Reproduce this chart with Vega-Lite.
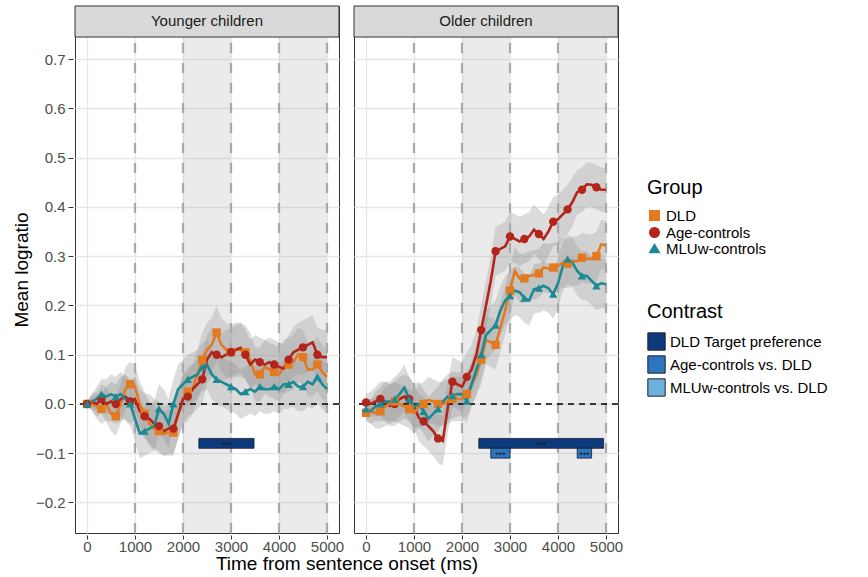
{
"$schema": "https://vega.github.io/schema/vega-lite/v6.json",
"padding": {"left": 12, "top": 5, "right": 5, "bottom": 0},
"data": {"values": [
{"p":"Younger children","k":"S"},
{"p":"Older children","k":"S"},
{"p":"Younger children","k":"shade","x1":2000,"x2":3000},
{"p":"Younger children","k":"shade","x1":4000,"x2":5000},
{"p":"Older children","k":"shade","x1":2000,"x2":3000},
{"p":"Older children","k":"shade","x1":4000,"x2":5000},
{"p":"Younger children","k":"V","t":1000},{"p":"Younger children","k":"V","t":2000},{"p":"Younger children","k":"V","t":3000},{"p":"Younger children","k":"V","t":4000},{"p":"Younger children","k":"V","t":5000},
{"p":"Older children","k":"V","t":1000},{"p":"Older children","k":"V","t":2000},{"p":"Older children","k":"V","t":3000},{"p":"Older children","k":"V","t":4000},{"p":"Older children","k":"V","t":5000},
{"p":"Younger children","k":"B","c":"DLD Target preference","x1":2330,"x2":3480,"y1":-0.07,"y2":-0.09},
{"p":"Older children","k":"B","c":"DLD Target preference","x1":2350,"x2":4950,"y1":-0.07,"y2":-0.09},
{"p":"Older children","k":"B","c":"Age-controls vs. DLD","x1":2600,"x2":3000,"y1":-0.09,"y2":-0.11},
{"p":"Older children","k":"B","c":"Age-controls vs. DLD","x1":4400,"x2":4700,"y1":-0.09,"y2":-0.11},

{"p":"Younger children","k":"L","g":"DLD","t":0,"m":0.0,"lo":-0.005,"hi":0.005},
{"p":"Younger children","k":"L","g":"DLD","t":100,"m":0.0,"lo":-0.015,"hi":0.015},
{"p":"Younger children","k":"L","g":"DLD","t":200,"m":-0.005,"lo":-0.03,"hi":0.02},
{"p":"Younger children","k":"L","g":"DLD","t":300,"m":-0.01,"lo":-0.04,"hi":0.02},
{"p":"Younger children","k":"L","g":"DLD","t":400,"m":0.0,"lo":-0.035,"hi":0.035},
{"p":"Younger children","k":"L","g":"DLD","t":500,"m":-0.02,"lo":-0.055,"hi":0.015},
{"p":"Younger children","k":"L","g":"DLD","t":600,"m":-0.025,"lo":-0.065,"hi":0.015},
{"p":"Younger children","k":"L","g":"DLD","t":700,"m":0.0,"lo":-0.04,"hi":0.04},
{"p":"Younger children","k":"L","g":"DLD","t":800,"m":0.03,"lo":-0.01,"hi":0.075},
{"p":"Younger children","k":"L","g":"DLD","t":900,"m":0.04,"lo":-0.005,"hi":0.085},
{"p":"Younger children","k":"L","g":"DLD","t":1000,"m":0.035,"lo":-0.01,"hi":0.08},
{"p":"Younger children","k":"L","g":"DLD","t":1100,"m":0.0,"lo":-0.045,"hi":0.045},
{"p":"Younger children","k":"L","g":"DLD","t":1200,"m":-0.02,"lo":-0.065,"hi":0.025},
{"p":"Younger children","k":"L","g":"DLD","t":1300,"m":-0.04,"lo":-0.085,"hi":0.005},
{"p":"Younger children","k":"L","g":"DLD","t":1400,"m":-0.05,"lo":-0.095,"hi":-0.005},
{"p":"Younger children","k":"L","g":"DLD","t":1500,"m":-0.055,"lo":-0.1,"hi":-0.01},
{"p":"Younger children","k":"L","g":"DLD","t":1600,"m":-0.06,"lo":-0.105,"hi":-0.015},
{"p":"Younger children","k":"L","g":"DLD","t":1700,"m":-0.058,"lo":-0.105,"hi":-0.01},
{"p":"Younger children","k":"L","g":"DLD","t":1800,"m":-0.058,"lo":-0.105,"hi":-0.01},
{"p":"Younger children","k":"L","g":"DLD","t":1900,"m":-0.02,"lo":-0.07,"hi":0.03},
{"p":"Younger children","k":"L","g":"DLD","t":2000,"m":0.01,"lo":-0.04,"hi":0.06},
{"p":"Younger children","k":"L","g":"DLD","t":2100,"m":0.025,"lo":-0.025,"hi":0.075},
{"p":"Younger children","k":"L","g":"DLD","t":2200,"m":0.03,"lo":-0.02,"hi":0.08},
{"p":"Younger children","k":"L","g":"DLD","t":2300,"m":0.06,"lo":0.01,"hi":0.11},
{"p":"Younger children","k":"L","g":"DLD","t":2400,"m":0.09,"lo":0.035,"hi":0.145},
{"p":"Younger children","k":"L","g":"DLD","t":2500,"m":0.11,"lo":0.055,"hi":0.165},
{"p":"Younger children","k":"L","g":"DLD","t":2600,"m":0.12,"lo":0.065,"hi":0.175},
{"p":"Younger children","k":"L","g":"DLD","t":2700,"m":0.145,"lo":0.09,"hi":0.2},
{"p":"Younger children","k":"L","g":"DLD","t":2800,"m":0.12,"lo":0.065,"hi":0.175},
{"p":"Younger children","k":"L","g":"DLD","t":2900,"m":0.11,"lo":0.055,"hi":0.165},
{"p":"Younger children","k":"L","g":"DLD","t":3000,"m":0.105,"lo":0.05,"hi":0.16},
{"p":"Younger children","k":"L","g":"DLD","t":3100,"m":0.11,"lo":0.055,"hi":0.165},
{"p":"Younger children","k":"L","g":"DLD","t":3200,"m":0.11,"lo":0.055,"hi":0.165},
{"p":"Younger children","k":"L","g":"DLD","t":3300,"m":0.105,"lo":0.05,"hi":0.16},
{"p":"Younger children","k":"L","g":"DLD","t":3400,"m":0.09,"lo":0.035,"hi":0.145},
{"p":"Younger children","k":"L","g":"DLD","t":3500,"m":0.06,"lo":0.005,"hi":0.115},
{"p":"Younger children","k":"L","g":"DLD","t":3600,"m":0.06,"lo":0.005,"hi":0.115},
{"p":"Younger children","k":"L","g":"DLD","t":3700,"m":0.075,"lo":0.02,"hi":0.13},
{"p":"Younger children","k":"L","g":"DLD","t":3800,"m":0.07,"lo":0.015,"hi":0.125},
{"p":"Younger children","k":"L","g":"DLD","t":3900,"m":0.065,"lo":0.01,"hi":0.12},
{"p":"Younger children","k":"L","g":"DLD","t":4000,"m":0.06,"lo":0.005,"hi":0.115},
{"p":"Younger children","k":"L","g":"DLD","t":4100,"m":0.075,"lo":0.02,"hi":0.13},
{"p":"Younger children","k":"L","g":"DLD","t":4200,"m":0.08,"lo":0.025,"hi":0.135},
{"p":"Younger children","k":"L","g":"DLD","t":4300,"m":0.085,"lo":0.03,"hi":0.14},
{"p":"Younger children","k":"L","g":"DLD","t":4400,"m":0.1,"lo":0.045,"hi":0.155},
{"p":"Younger children","k":"L","g":"DLD","t":4500,"m":0.095,"lo":0.04,"hi":0.15},
{"p":"Younger children","k":"L","g":"DLD","t":4600,"m":0.07,"lo":0.015,"hi":0.125},
{"p":"Younger children","k":"L","g":"DLD","t":4700,"m":0.07,"lo":0.015,"hi":0.125},
{"p":"Younger children","k":"L","g":"DLD","t":4800,"m":0.08,"lo":0.025,"hi":0.135},
{"p":"Younger children","k":"L","g":"DLD","t":4900,"m":0.065,"lo":0.01,"hi":0.12},
{"p":"Younger children","k":"L","g":"DLD","t":5000,"m":0.055,"lo":0.0,"hi":0.11},

{"p":"Younger children","k":"L","g":"Age-controls","t":0,"m":0.0,"lo":-0.005,"hi":0.005},
{"p":"Younger children","k":"L","g":"Age-controls","t":100,"m":0.005,"lo":-0.01,"hi":0.02},
{"p":"Younger children","k":"L","g":"Age-controls","t":200,"m":0.0,"lo":-0.025,"hi":0.025},
{"p":"Younger children","k":"L","g":"Age-controls","t":300,"m":0.01,"lo":-0.02,"hi":0.04},
{"p":"Younger children","k":"L","g":"Age-controls","t":400,"m":0.0,"lo":-0.035,"hi":0.035},
{"p":"Younger children","k":"L","g":"Age-controls","t":500,"m":0.005,"lo":-0.035,"hi":0.045},
{"p":"Younger children","k":"L","g":"Age-controls","t":600,"m":0.0,"lo":-0.04,"hi":0.04},
{"p":"Younger children","k":"L","g":"Age-controls","t":700,"m":0.01,"lo":-0.035,"hi":0.055},
{"p":"Younger children","k":"L","g":"Age-controls","t":800,"m":0.015,"lo":-0.03,"hi":0.06},
{"p":"Younger children","k":"L","g":"Age-controls","t":900,"m":0.005,"lo":-0.04,"hi":0.05},
{"p":"Younger children","k":"L","g":"Age-controls","t":1000,"m":0.01,"lo":-0.035,"hi":0.055},
{"p":"Younger children","k":"L","g":"Age-controls","t":1100,"m":-0.015,"lo":-0.06,"hi":0.03},
{"p":"Younger children","k":"L","g":"Age-controls","t":1200,"m":-0.025,"lo":-0.07,"hi":0.02},
{"p":"Younger children","k":"L","g":"Age-controls","t":1300,"m":-0.03,"lo":-0.08,"hi":0.02},
{"p":"Younger children","k":"L","g":"Age-controls","t":1400,"m":-0.04,"lo":-0.09,"hi":0.01},
{"p":"Younger children","k":"L","g":"Age-controls","t":1500,"m":-0.045,"lo":-0.095,"hi":0.005},
{"p":"Younger children","k":"L","g":"Age-controls","t":1600,"m":-0.055,"lo":-0.105,"hi":-0.005},
{"p":"Younger children","k":"L","g":"Age-controls","t":1700,"m":-0.05,"lo":-0.1,"hi":0.0},
{"p":"Younger children","k":"L","g":"Age-controls","t":1800,"m":-0.05,"lo":-0.1,"hi":0.0},
{"p":"Younger children","k":"L","g":"Age-controls","t":1900,"m":-0.02,"lo":-0.07,"hi":0.03},
{"p":"Younger children","k":"L","g":"Age-controls","t":2000,"m":0.01,"lo":-0.04,"hi":0.06},
{"p":"Younger children","k":"L","g":"Age-controls","t":2100,"m":0.015,"lo":-0.035,"hi":0.065},
{"p":"Younger children","k":"L","g":"Age-controls","t":2200,"m":0.03,"lo":-0.02,"hi":0.08},
{"p":"Younger children","k":"L","g":"Age-controls","t":2300,"m":0.04,"lo":-0.01,"hi":0.09},
{"p":"Younger children","k":"L","g":"Age-controls","t":2400,"m":0.05,"lo":0.0,"hi":0.1},
{"p":"Younger children","k":"L","g":"Age-controls","t":2500,"m":0.09,"lo":0.04,"hi":0.14},
{"p":"Younger children","k":"L","g":"Age-controls","t":2600,"m":0.105,"lo":0.055,"hi":0.155},
{"p":"Younger children","k":"L","g":"Age-controls","t":2700,"m":0.1,"lo":0.05,"hi":0.15},
{"p":"Younger children","k":"L","g":"Age-controls","t":2800,"m":0.095,"lo":0.045,"hi":0.145},
{"p":"Younger children","k":"L","g":"Age-controls","t":2900,"m":0.1,"lo":0.05,"hi":0.15},
{"p":"Younger children","k":"L","g":"Age-controls","t":3000,"m":0.105,"lo":0.055,"hi":0.155},
{"p":"Younger children","k":"L","g":"Age-controls","t":3100,"m":0.11,"lo":0.06,"hi":0.16},
{"p":"Younger children","k":"L","g":"Age-controls","t":3200,"m":0.114,"lo":0.064,"hi":0.164},
{"p":"Younger children","k":"L","g":"Age-controls","t":3300,"m":0.1,"lo":0.05,"hi":0.15},
{"p":"Younger children","k":"L","g":"Age-controls","t":3400,"m":0.08,"lo":0.03,"hi":0.13},
{"p":"Younger children","k":"L","g":"Age-controls","t":3500,"m":0.09,"lo":0.04,"hi":0.14},
{"p":"Younger children","k":"L","g":"Age-controls","t":3600,"m":0.085,"lo":0.035,"hi":0.135},
{"p":"Younger children","k":"L","g":"Age-controls","t":3700,"m":0.08,"lo":0.03,"hi":0.13},
{"p":"Younger children","k":"L","g":"Age-controls","t":3800,"m":0.085,"lo":0.035,"hi":0.135},
{"p":"Younger children","k":"L","g":"Age-controls","t":3900,"m":0.08,"lo":0.03,"hi":0.13},
{"p":"Younger children","k":"L","g":"Age-controls","t":4000,"m":0.075,"lo":0.025,"hi":0.125},
{"p":"Younger children","k":"L","g":"Age-controls","t":4100,"m":0.072,"lo":0.022,"hi":0.122},
{"p":"Younger children","k":"L","g":"Age-controls","t":4200,"m":0.09,"lo":0.04,"hi":0.14},
{"p":"Younger children","k":"L","g":"Age-controls","t":4300,"m":0.105,"lo":0.055,"hi":0.155},
{"p":"Younger children","k":"L","g":"Age-controls","t":4400,"m":0.11,"lo":0.06,"hi":0.165},
{"p":"Younger children","k":"L","g":"Age-controls","t":4500,"m":0.115,"lo":0.06,"hi":0.17},
{"p":"Younger children","k":"L","g":"Age-controls","t":4600,"m":0.12,"lo":0.065,"hi":0.175},
{"p":"Younger children","k":"L","g":"Age-controls","t":4700,"m":0.125,"lo":0.07,"hi":0.18},
{"p":"Younger children","k":"L","g":"Age-controls","t":4800,"m":0.1,"lo":0.045,"hi":0.155},
{"p":"Younger children","k":"L","g":"Age-controls","t":4900,"m":0.095,"lo":0.04,"hi":0.15},
{"p":"Younger children","k":"L","g":"Age-controls","t":5000,"m":0.095,"lo":0.04,"hi":0.15},

{"p":"Younger children","k":"L","g":"MLUw-controls","t":0,"m":0.0,"lo":-0.005,"hi":0.005},
{"p":"Younger children","k":"L","g":"MLUw-controls","t":100,"m":0.005,"lo":-0.01,"hi":0.02},
{"p":"Younger children","k":"L","g":"MLUw-controls","t":200,"m":0.01,"lo":-0.015,"hi":0.035},
{"p":"Younger children","k":"L","g":"MLUw-controls","t":300,"m":0.02,"lo":-0.01,"hi":0.05},
{"p":"Younger children","k":"L","g":"MLUw-controls","t":400,"m":0.015,"lo":-0.02,"hi":0.05},
{"p":"Younger children","k":"L","g":"MLUw-controls","t":500,"m":0.02,"lo":-0.02,"hi":0.06},
{"p":"Younger children","k":"L","g":"MLUw-controls","t":600,"m":0.015,"lo":-0.025,"hi":0.055},
{"p":"Younger children","k":"L","g":"MLUw-controls","t":700,"m":0.02,"lo":-0.025,"hi":0.065},
{"p":"Younger children","k":"L","g":"MLUw-controls","t":800,"m":0.01,"lo":-0.035,"hi":0.055},
{"p":"Younger children","k":"L","g":"MLUw-controls","t":900,"m":0.0,"lo":-0.045,"hi":0.045},
{"p":"Younger children","k":"L","g":"MLUw-controls","t":1000,"m":-0.03,"lo":-0.075,"hi":0.015},
{"p":"Younger children","k":"L","g":"MLUw-controls","t":1100,"m":-0.06,"lo":-0.11,"hi":-0.01},
{"p":"Younger children","k":"L","g":"MLUw-controls","t":1200,"m":-0.055,"lo":-0.105,"hi":-0.005},
{"p":"Younger children","k":"L","g":"MLUw-controls","t":1300,"m":-0.05,"lo":-0.1,"hi":0.0},
{"p":"Younger children","k":"L","g":"MLUw-controls","t":1400,"m":-0.045,"lo":-0.095,"hi":0.005},
{"p":"Younger children","k":"L","g":"MLUw-controls","t":1500,"m":-0.01,"lo":-0.06,"hi":0.04},
{"p":"Younger children","k":"L","g":"MLUw-controls","t":1600,"m":-0.02,"lo":-0.07,"hi":0.03},
{"p":"Younger children","k":"L","g":"MLUw-controls","t":1700,"m":-0.04,"lo":-0.09,"hi":0.01},
{"p":"Younger children","k":"L","g":"MLUw-controls","t":1800,"m":0.0,"lo":-0.05,"hi":0.05},
{"p":"Younger children","k":"L","g":"MLUw-controls","t":1900,"m":0.03,"lo":-0.02,"hi":0.08},
{"p":"Younger children","k":"L","g":"MLUw-controls","t":2000,"m":0.04,"lo":-0.01,"hi":0.09},
{"p":"Younger children","k":"L","g":"MLUw-controls","t":2100,"m":0.05,"lo":0.0,"hi":0.1},
{"p":"Younger children","k":"L","g":"MLUw-controls","t":2200,"m":0.055,"lo":0.005,"hi":0.105},
{"p":"Younger children","k":"L","g":"MLUw-controls","t":2300,"m":0.06,"lo":0.01,"hi":0.11},
{"p":"Younger children","k":"L","g":"MLUw-controls","t":2400,"m":0.075,"lo":0.025,"hi":0.125},
{"p":"Younger children","k":"L","g":"MLUw-controls","t":2500,"m":0.08,"lo":0.03,"hi":0.13},
{"p":"Younger children","k":"L","g":"MLUw-controls","t":2600,"m":0.06,"lo":0.01,"hi":0.11},
{"p":"Younger children","k":"L","g":"MLUw-controls","t":2700,"m":0.05,"lo":0.0,"hi":0.1},
{"p":"Younger children","k":"L","g":"MLUw-controls","t":2800,"m":0.045,"lo":-0.005,"hi":0.095},
{"p":"Younger children","k":"L","g":"MLUw-controls","t":2900,"m":0.04,"lo":-0.01,"hi":0.09},
{"p":"Younger children","k":"L","g":"MLUw-controls","t":3000,"m":0.035,"lo":-0.015,"hi":0.085},
{"p":"Younger children","k":"L","g":"MLUw-controls","t":3100,"m":0.03,"lo":-0.02,"hi":0.08},
{"p":"Younger children","k":"L","g":"MLUw-controls","t":3200,"m":0.02,"lo":-0.03,"hi":0.07},
{"p":"Younger children","k":"L","g":"MLUw-controls","t":3300,"m":0.025,"lo":-0.025,"hi":0.075},
{"p":"Younger children","k":"L","g":"MLUw-controls","t":3400,"m":0.03,"lo":-0.02,"hi":0.08},
{"p":"Younger children","k":"L","g":"MLUw-controls","t":3500,"m":0.025,"lo":-0.025,"hi":0.075},
{"p":"Younger children","k":"L","g":"MLUw-controls","t":3600,"m":0.035,"lo":-0.015,"hi":0.085},
{"p":"Younger children","k":"L","g":"MLUw-controls","t":3700,"m":0.03,"lo":-0.02,"hi":0.08},
{"p":"Younger children","k":"L","g":"MLUw-controls","t":3800,"m":0.03,"lo":-0.02,"hi":0.08},
{"p":"Younger children","k":"L","g":"MLUw-controls","t":3900,"m":0.035,"lo":-0.015,"hi":0.085},
{"p":"Younger children","k":"L","g":"MLUw-controls","t":4000,"m":0.03,"lo":-0.02,"hi":0.08},
{"p":"Younger children","k":"L","g":"MLUw-controls","t":4100,"m":0.04,"lo":-0.01,"hi":0.09},
{"p":"Younger children","k":"L","g":"MLUw-controls","t":4200,"m":0.04,"lo":-0.01,"hi":0.09},
{"p":"Younger children","k":"L","g":"MLUw-controls","t":4300,"m":0.045,"lo":-0.005,"hi":0.095},
{"p":"Younger children","k":"L","g":"MLUw-controls","t":4400,"m":0.035,"lo":-0.015,"hi":0.085},
{"p":"Younger children","k":"L","g":"MLUw-controls","t":4500,"m":0.035,"lo":-0.015,"hi":0.085},
{"p":"Younger children","k":"L","g":"MLUw-controls","t":4600,"m":0.045,"lo":-0.005,"hi":0.095},
{"p":"Younger children","k":"L","g":"MLUw-controls","t":4700,"m":0.04,"lo":-0.01,"hi":0.09},
{"p":"Younger children","k":"L","g":"MLUw-controls","t":4800,"m":0.055,"lo":0.005,"hi":0.105},
{"p":"Younger children","k":"L","g":"MLUw-controls","t":4900,"m":0.04,"lo":-0.01,"hi":0.09},
{"p":"Younger children","k":"L","g":"MLUw-controls","t":5000,"m":0.03,"lo":-0.02,"hi":0.08},

{"p":"Older children","k":"L","g":"Age-controls","t":0,"m":0.003,"lo":-0.015,"hi":0.02},
{"p":"Older children","k":"L","g":"Age-controls","t":100,"m":0.0,"lo":-0.025,"hi":0.025},
{"p":"Older children","k":"L","g":"Age-controls","t":200,"m":0.005,"lo":-0.025,"hi":0.035},
{"p":"Older children","k":"L","g":"Age-controls","t":300,"m":0.01,"lo":-0.025,"hi":0.045},
{"p":"Older children","k":"L","g":"Age-controls","t":400,"m":0.005,"lo":-0.035,"hi":0.045},
{"p":"Older children","k":"L","g":"Age-controls","t":500,"m":-0.004,"lo":-0.045,"hi":0.04},
{"p":"Older children","k":"L","g":"Age-controls","t":600,"m":0.0,"lo":-0.045,"hi":0.045},
{"p":"Older children","k":"L","g":"Age-controls","t":700,"m":0.01,"lo":-0.035,"hi":0.055},
{"p":"Older children","k":"L","g":"Age-controls","t":800,"m":0.015,"lo":-0.03,"hi":0.06},
{"p":"Older children","k":"L","g":"Age-controls","t":900,"m":0.01,"lo":-0.035,"hi":0.055},
{"p":"Older children","k":"L","g":"Age-controls","t":1000,"m":-0.005,"lo":-0.05,"hi":0.04},
{"p":"Older children","k":"L","g":"Age-controls","t":1100,"m":-0.028,"lo":-0.075,"hi":0.02},
{"p":"Older children","k":"L","g":"Age-controls","t":1200,"m":-0.035,"lo":-0.085,"hi":0.015},
{"p":"Older children","k":"L","g":"Age-controls","t":1300,"m":-0.045,"lo":-0.095,"hi":0.005},
{"p":"Older children","k":"L","g":"Age-controls","t":1400,"m":-0.055,"lo":-0.105,"hi":-0.005},
{"p":"Older children","k":"L","g":"Age-controls","t":1500,"m":-0.07,"lo":-0.12,"hi":-0.02},
{"p":"Older children","k":"L","g":"Age-controls","t":1600,"m":-0.075,"lo":-0.125,"hi":-0.025},
{"p":"Older children","k":"L","g":"Age-controls","t":1700,"m":-0.01,"lo":-0.06,"hi":0.04},
{"p":"Older children","k":"L","g":"Age-controls","t":1800,"m":0.045,"lo":-0.005,"hi":0.095},
{"p":"Older children","k":"L","g":"Age-controls","t":1900,"m":0.04,"lo":-0.01,"hi":0.09},
{"p":"Older children","k":"L","g":"Age-controls","t":2000,"m":0.035,"lo":-0.015,"hi":0.085},
{"p":"Older children","k":"L","g":"Age-controls","t":2100,"m":0.055,"lo":0.005,"hi":0.105},
{"p":"Older children","k":"L","g":"Age-controls","t":2200,"m":0.07,"lo":0.02,"hi":0.12},
{"p":"Older children","k":"L","g":"Age-controls","t":2300,"m":0.1,"lo":0.05,"hi":0.15},
{"p":"Older children","k":"L","g":"Age-controls","t":2400,"m":0.15,"lo":0.1,"hi":0.2},
{"p":"Older children","k":"L","g":"Age-controls","t":2500,"m":0.2,"lo":0.15,"hi":0.25},
{"p":"Older children","k":"L","g":"Age-controls","t":2600,"m":0.25,"lo":0.2,"hi":0.3},
{"p":"Older children","k":"L","g":"Age-controls","t":2700,"m":0.31,"lo":0.26,"hi":0.36},
{"p":"Older children","k":"L","g":"Age-controls","t":2800,"m":0.315,"lo":0.265,"hi":0.365},
{"p":"Older children","k":"L","g":"Age-controls","t":2900,"m":0.32,"lo":0.27,"hi":0.37},
{"p":"Older children","k":"L","g":"Age-controls","t":3000,"m":0.34,"lo":0.29,"hi":0.39},
{"p":"Older children","k":"L","g":"Age-controls","t":3100,"m":0.335,"lo":0.285,"hi":0.385},
{"p":"Older children","k":"L","g":"Age-controls","t":3200,"m":0.33,"lo":0.28,"hi":0.38},
{"p":"Older children","k":"L","g":"Age-controls","t":3300,"m":0.335,"lo":0.285,"hi":0.385},
{"p":"Older children","k":"L","g":"Age-controls","t":3400,"m":0.34,"lo":0.29,"hi":0.39},
{"p":"Older children","k":"L","g":"Age-controls","t":3500,"m":0.354,"lo":0.305,"hi":0.405},
{"p":"Older children","k":"L","g":"Age-controls","t":3600,"m":0.345,"lo":0.295,"hi":0.395},
{"p":"Older children","k":"L","g":"Age-controls","t":3700,"m":0.335,"lo":0.285,"hi":0.385},
{"p":"Older children","k":"L","g":"Age-controls","t":3800,"m":0.35,"lo":0.3,"hi":0.4},
{"p":"Older children","k":"L","g":"Age-controls","t":3900,"m":0.37,"lo":0.32,"hi":0.42},
{"p":"Older children","k":"L","g":"Age-controls","t":4000,"m":0.375,"lo":0.325,"hi":0.425},
{"p":"Older children","k":"L","g":"Age-controls","t":4100,"m":0.385,"lo":0.335,"hi":0.435},
{"p":"Older children","k":"L","g":"Age-controls","t":4200,"m":0.395,"lo":0.345,"hi":0.445},
{"p":"Older children","k":"L","g":"Age-controls","t":4300,"m":0.41,"lo":0.36,"hi":0.46},
{"p":"Older children","k":"L","g":"Age-controls","t":4400,"m":0.43,"lo":0.385,"hi":0.475},
{"p":"Older children","k":"L","g":"Age-controls","t":4500,"m":0.435,"lo":0.39,"hi":0.48},
{"p":"Older children","k":"L","g":"Age-controls","t":4600,"m":0.446,"lo":0.4,"hi":0.49},
{"p":"Older children","k":"L","g":"Age-controls","t":4700,"m":0.445,"lo":0.4,"hi":0.49},
{"p":"Older children","k":"L","g":"Age-controls","t":4800,"m":0.44,"lo":0.395,"hi":0.485},
{"p":"Older children","k":"L","g":"Age-controls","t":4900,"m":0.435,"lo":0.39,"hi":0.48},
{"p":"Older children","k":"L","g":"Age-controls","t":5000,"m":0.435,"lo":0.39,"hi":0.48},

{"p":"Older children","k":"L","g":"DLD","t":0,"m":-0.018,"lo":-0.035,"hi":0.0},
{"p":"Older children","k":"L","g":"DLD","t":100,"m":-0.015,"lo":-0.04,"hi":0.01},
{"p":"Older children","k":"L","g":"DLD","t":200,"m":-0.018,"lo":-0.05,"hi":0.015},
{"p":"Older children","k":"L","g":"DLD","t":300,"m":-0.015,"lo":-0.05,"hi":0.02},
{"p":"Older children","k":"L","g":"DLD","t":400,"m":-0.005,"lo":-0.045,"hi":0.035},
{"p":"Older children","k":"L","g":"DLD","t":500,"m":0.0,"lo":-0.04,"hi":0.04},
{"p":"Older children","k":"L","g":"DLD","t":600,"m":0.005,"lo":-0.035,"hi":0.045},
{"p":"Older children","k":"L","g":"DLD","t":700,"m":0.0,"lo":-0.04,"hi":0.04},
{"p":"Older children","k":"L","g":"DLD","t":800,"m":-0.005,"lo":-0.045,"hi":0.035},
{"p":"Older children","k":"L","g":"DLD","t":900,"m":-0.01,"lo":-0.05,"hi":0.03},
{"p":"Older children","k":"L","g":"DLD","t":1000,"m":-0.018,"lo":-0.06,"hi":0.025},
{"p":"Older children","k":"L","g":"DLD","t":1100,"m":-0.005,"lo":-0.05,"hi":0.04},
{"p":"Older children","k":"L","g":"DLD","t":1200,"m":0.0,"lo":-0.045,"hi":0.045},
{"p":"Older children","k":"L","g":"DLD","t":1300,"m":0.008,"lo":-0.04,"hi":0.055},
{"p":"Older children","k":"L","g":"DLD","t":1400,"m":0.005,"lo":-0.04,"hi":0.05},
{"p":"Older children","k":"L","g":"DLD","t":1500,"m":0.0,"lo":-0.045,"hi":0.045},
{"p":"Older children","k":"L","g":"DLD","t":1600,"m":0.0,"lo":-0.045,"hi":0.045},
{"p":"Older children","k":"L","g":"DLD","t":1700,"m":0.005,"lo":-0.04,"hi":0.05},
{"p":"Older children","k":"L","g":"DLD","t":1800,"m":0.01,"lo":-0.035,"hi":0.055},
{"p":"Older children","k":"L","g":"DLD","t":1900,"m":0.01,"lo":-0.035,"hi":0.055},
{"p":"Older children","k":"L","g":"DLD","t":2000,"m":0.01,"lo":-0.035,"hi":0.055},
{"p":"Older children","k":"L","g":"DLD","t":2100,"m":0.02,"lo":-0.025,"hi":0.065},
{"p":"Older children","k":"L","g":"DLD","t":2200,"m":0.04,"lo":-0.005,"hi":0.085},
{"p":"Older children","k":"L","g":"DLD","t":2300,"m":0.06,"lo":0.015,"hi":0.105},
{"p":"Older children","k":"L","g":"DLD","t":2400,"m":0.09,"lo":0.04,"hi":0.14},
{"p":"Older children","k":"L","g":"DLD","t":2500,"m":0.13,"lo":0.08,"hi":0.18},
{"p":"Older children","k":"L","g":"DLD","t":2600,"m":0.125,"lo":0.075,"hi":0.175},
{"p":"Older children","k":"L","g":"DLD","t":2700,"m":0.12,"lo":0.07,"hi":0.17},
{"p":"Older children","k":"L","g":"DLD","t":2800,"m":0.155,"lo":0.105,"hi":0.205},
{"p":"Older children","k":"L","g":"DLD","t":2900,"m":0.19,"lo":0.14,"hi":0.24},
{"p":"Older children","k":"L","g":"DLD","t":3000,"m":0.23,"lo":0.18,"hi":0.28},
{"p":"Older children","k":"L","g":"DLD","t":3100,"m":0.27,"lo":0.22,"hi":0.32},
{"p":"Older children","k":"L","g":"DLD","t":3200,"m":0.255,"lo":0.205,"hi":0.305},
{"p":"Older children","k":"L","g":"DLD","t":3300,"m":0.255,"lo":0.205,"hi":0.305},
{"p":"Older children","k":"L","g":"DLD","t":3400,"m":0.26,"lo":0.21,"hi":0.31},
{"p":"Older children","k":"L","g":"DLD","t":3500,"m":0.262,"lo":0.212,"hi":0.312},
{"p":"Older children","k":"L","g":"DLD","t":3600,"m":0.265,"lo":0.215,"hi":0.315},
{"p":"Older children","k":"L","g":"DLD","t":3700,"m":0.277,"lo":0.227,"hi":0.327},
{"p":"Older children","k":"L","g":"DLD","t":3800,"m":0.275,"lo":0.225,"hi":0.325},
{"p":"Older children","k":"L","g":"DLD","t":3900,"m":0.277,"lo":0.227,"hi":0.327},
{"p":"Older children","k":"L","g":"DLD","t":4000,"m":0.28,"lo":0.23,"hi":0.33},
{"p":"Older children","k":"L","g":"DLD","t":4100,"m":0.287,"lo":0.237,"hi":0.337},
{"p":"Older children","k":"L","g":"DLD","t":4200,"m":0.285,"lo":0.235,"hi":0.335},
{"p":"Older children","k":"L","g":"DLD","t":4300,"m":0.29,"lo":0.24,"hi":0.34},
{"p":"Older children","k":"L","g":"DLD","t":4400,"m":0.29,"lo":0.24,"hi":0.34},
{"p":"Older children","k":"L","g":"DLD","t":4500,"m":0.297,"lo":0.247,"hi":0.347},
{"p":"Older children","k":"L","g":"DLD","t":4600,"m":0.295,"lo":0.245,"hi":0.345},
{"p":"Older children","k":"L","g":"DLD","t":4700,"m":0.294,"lo":0.244,"hi":0.344},
{"p":"Older children","k":"L","g":"DLD","t":4800,"m":0.3,"lo":0.25,"hi":0.35},
{"p":"Older children","k":"L","g":"DLD","t":4900,"m":0.324,"lo":0.274,"hi":0.374},
{"p":"Older children","k":"L","g":"DLD","t":5000,"m":0.322,"lo":0.272,"hi":0.372},

{"p":"Older children","k":"L","g":"MLUw-controls","t":0,"m":-0.01,"lo":-0.03,"hi":0.01},
{"p":"Older children","k":"L","g":"MLUw-controls","t":100,"m":-0.014,"lo":-0.04,"hi":0.01},
{"p":"Older children","k":"L","g":"MLUw-controls","t":200,"m":-0.005,"lo":-0.035,"hi":0.025},
{"p":"Older children","k":"L","g":"MLUw-controls","t":300,"m":0.0,"lo":-0.035,"hi":0.035},
{"p":"Older children","k":"L","g":"MLUw-controls","t":400,"m":0.005,"lo":-0.035,"hi":0.045},
{"p":"Older children","k":"L","g":"MLUw-controls","t":500,"m":0.005,"lo":-0.035,"hi":0.045},
{"p":"Older children","k":"L","g":"MLUw-controls","t":600,"m":0.01,"lo":-0.035,"hi":0.055},
{"p":"Older children","k":"L","g":"MLUw-controls","t":700,"m":0.02,"lo":-0.025,"hi":0.065},
{"p":"Older children","k":"L","g":"MLUw-controls","t":800,"m":0.033,"lo":-0.015,"hi":0.08},
{"p":"Older children","k":"L","g":"MLUw-controls","t":900,"m":0.01,"lo":-0.035,"hi":0.055},
{"p":"Older children","k":"L","g":"MLUw-controls","t":1000,"m":-0.006,"lo":-0.05,"hi":0.04},
{"p":"Older children","k":"L","g":"MLUw-controls","t":1100,"m":0.0,"lo":-0.045,"hi":0.045},
{"p":"Older children","k":"L","g":"MLUw-controls","t":1200,"m":-0.015,"lo":-0.06,"hi":0.03},
{"p":"Older children","k":"L","g":"MLUw-controls","t":1300,"m":-0.03,"lo":-0.075,"hi":0.015},
{"p":"Older children","k":"L","g":"MLUw-controls","t":1400,"m":-0.02,"lo":-0.065,"hi":0.025},
{"p":"Older children","k":"L","g":"MLUw-controls","t":1500,"m":-0.01,"lo":-0.055,"hi":0.035},
{"p":"Older children","k":"L","g":"MLUw-controls","t":1600,"m":0.005,"lo":-0.04,"hi":0.05},
{"p":"Older children","k":"L","g":"MLUw-controls","t":1700,"m":0.015,"lo":-0.03,"hi":0.06},
{"p":"Older children","k":"L","g":"MLUw-controls","t":1800,"m":0.017,"lo":-0.03,"hi":0.065},
{"p":"Older children","k":"L","g":"MLUw-controls","t":1900,"m":0.02,"lo":-0.025,"hi":0.065},
{"p":"Older children","k":"L","g":"MLUw-controls","t":2000,"m":0.02,"lo":-0.025,"hi":0.065},
{"p":"Older children","k":"L","g":"MLUw-controls","t":2100,"m":0.006,"lo":-0.04,"hi":0.05},
{"p":"Older children","k":"L","g":"MLUw-controls","t":2200,"m":0.04,"lo":-0.005,"hi":0.085},
{"p":"Older children","k":"L","g":"MLUw-controls","t":2300,"m":0.07,"lo":0.02,"hi":0.12},
{"p":"Older children","k":"L","g":"MLUw-controls","t":2400,"m":0.1,"lo":0.05,"hi":0.15},
{"p":"Older children","k":"L","g":"MLUw-controls","t":2500,"m":0.14,"lo":0.09,"hi":0.19},
{"p":"Older children","k":"L","g":"MLUw-controls","t":2600,"m":0.15,"lo":0.1,"hi":0.2},
{"p":"Older children","k":"L","g":"MLUw-controls","t":2700,"m":0.16,"lo":0.11,"hi":0.21},
{"p":"Older children","k":"L","g":"MLUw-controls","t":2800,"m":0.19,"lo":0.14,"hi":0.24},
{"p":"Older children","k":"L","g":"MLUw-controls","t":2900,"m":0.21,"lo":0.16,"hi":0.26},
{"p":"Older children","k":"L","g":"MLUw-controls","t":3000,"m":0.22,"lo":0.17,"hi":0.27},
{"p":"Older children","k":"L","g":"MLUw-controls","t":3100,"m":0.23,"lo":0.18,"hi":0.28},
{"p":"Older children","k":"L","g":"MLUw-controls","t":3200,"m":0.227,"lo":0.177,"hi":0.277},
{"p":"Older children","k":"L","g":"MLUw-controls","t":3300,"m":0.215,"lo":0.165,"hi":0.265},
{"p":"Older children","k":"L","g":"MLUw-controls","t":3400,"m":0.21,"lo":0.16,"hi":0.26},
{"p":"Older children","k":"L","g":"MLUw-controls","t":3500,"m":0.233,"lo":0.183,"hi":0.283},
{"p":"Older children","k":"L","g":"MLUw-controls","t":3600,"m":0.235,"lo":0.185,"hi":0.285},
{"p":"Older children","k":"L","g":"MLUw-controls","t":3700,"m":0.24,"lo":0.19,"hi":0.29},
{"p":"Older children","k":"L","g":"MLUw-controls","t":3800,"m":0.235,"lo":0.185,"hi":0.285},
{"p":"Older children","k":"L","g":"MLUw-controls","t":3900,"m":0.223,"lo":0.173,"hi":0.273},
{"p":"Older children","k":"L","g":"MLUw-controls","t":4000,"m":0.245,"lo":0.195,"hi":0.295},
{"p":"Older children","k":"L","g":"MLUw-controls","t":4100,"m":0.28,"lo":0.23,"hi":0.33},
{"p":"Older children","k":"L","g":"MLUw-controls","t":4200,"m":0.294,"lo":0.244,"hi":0.344},
{"p":"Older children","k":"L","g":"MLUw-controls","t":4300,"m":0.287,"lo":0.237,"hi":0.337},
{"p":"Older children","k":"L","g":"MLUw-controls","t":4400,"m":0.27,"lo":0.22,"hi":0.32},
{"p":"Older children","k":"L","g":"MLUw-controls","t":4500,"m":0.26,"lo":0.21,"hi":0.31},
{"p":"Older children","k":"L","g":"MLUw-controls","t":4600,"m":0.26,"lo":0.21,"hi":0.31},
{"p":"Older children","k":"L","g":"MLUw-controls","t":4700,"m":0.25,"lo":0.2,"hi":0.3},
{"p":"Older children","k":"L","g":"MLUw-controls","t":4800,"m":0.24,"lo":0.19,"hi":0.29},
{"p":"Older children","k":"L","g":"MLUw-controls","t":4900,"m":0.245,"lo":0.195,"hi":0.295},
{"p":"Older children","k":"L","g":"MLUw-controls","t":5000,"m":0.243,"lo":0.193,"hi":0.293}
]},
"facet": {"column": {"field": "p", "type": "nominal", "sort": ["Younger children", "Older children"],
  "header": {"title": "Time from sentence onset (ms)", "titleOrient": "bottom", "labels": false, "titleFontSize": 19, "titleFontWeight": "normal", "titleColor": "#000000", "titlePadding": -9}}},
"spacing": 11,
"spec": {
  "width": 264,
  "height": 527,
  "layer": [
    {
      "transform": [{"filter": "datum.k == 'L'"}],
      "mark": {"type": "area", "fill": "#8c8c8c", "opacity": 0.3},
      "encoding": {
        "x": {"field": "t", "type": "quantitative",
          "scale": {"domain": [-250, 5250], "nice": false, "zero": false},
          "axis": {"title": null, "values": [0,500,1000,1500,2000,2500,3000,3500,4000,4500,5000], "format": "d", "labelPadding": 0, "tickSize": 4,
            "labelExpr": "datum.value % 1000 == 0 ? datum.label : ''",
            "tickOpacity": {"condition": {"test": "datum.value % 1000 != 0", "value": 0}, "value": 1},
            "gridWidth": {"condition": {"test": "datum.value % 1000 != 0", "value": 0.7}, "value": 1.3},
            "grid": true}},
        "y": {"field": "lo", "type": "quantitative",
          "scale": {"domain": [-0.262, 0.808], "nice": false, "zero": false},
          "axis": {"title": "Mean logratio", "values": [-0.2,-0.1,0,0.1,0.2,0.3,0.4,0.5,0.6,0.7], "format": ".1f", "grid": true, "gridWidth": 1.3, "labelPadding": 3}},
        "y2": {"field": "hi"},
        "detail": {"field": "g", "type": "nominal"}
      }
    },
    {
      "transform": [{"filter": "datum.k == 'shade'"}],
      "mark": {"type": "rect", "fill": "#b0b0b0", "opacity": 0.25},
      "encoding": {
        "x": {"field": "x1", "type": "quantitative"},
        "x2": {"field": "x2"},
        "y": {"datum": -0.262, "type": "quantitative"},
        "y2": {"datum": 0.745}
      }
    },
    {
      "transform": [{"filter": "datum.k == 'V'"}],
      "mark": {"type": "rule", "color": "#a9a9a9", "strokeWidth": 2.2, "strokeDash": [10, 10]},
      "encoding": {
        "x": {"field": "t", "type": "quantitative"},
        "y": {"datum": -0.262, "type": "quantitative"},
        "y2": {"datum": 0.745}
      }
    },
    {
      "transform": [{"filter": "datum.k == 'S'"}],
      "mark": {"type": "rule", "color": "#000000", "strokeWidth": 1.4, "strokeDash": [6, 5]},
      "encoding": {"y": {"datum": 0, "type": "quantitative"}}
    },
    {
      "transform": [{"filter": "datum.k == 'L'"}],
      "mark": {"type": "line", "strokeWidth": 2.6},
      "encoding": {
        "x": {"field": "t", "type": "quantitative"},
        "y": {"field": "m", "type": "quantitative"},
        "color": {"field": "g", "type": "nominal", "title": "Group",
          "scale": {"domain": ["DLD", "Age-controls", "MLUw-controls"], "range": ["#e47a1f", "#b3241b", "#1c8a93"]},
          "legend": {"orient": "none", "legendX": 572, "legendY": 172}}
      }
    },
    {
      "transform": [{"filter": "datum.k == 'L' && datum.t % 300 == 0"}],
      "mark": {"type": "point", "filled": true, "opacity": 1, "size": 70},
      "encoding": {
        "x": {"field": "t", "type": "quantitative"},
        "y": {"field": "m", "type": "quantitative"},
        "color": {"field": "g", "type": "nominal", "title": "Group"},
        "shape": {"field": "g", "type": "nominal", "title": "Group",
          "scale": {"domain": ["DLD", "Age-controls", "MLUw-controls"], "range": ["square", "circle", "triangle-up"]},
          "legend": {"orient": "none", "legendX": 572, "legendY": 172}}
      }
    },
    {
      "transform": [{"filter": "datum.k == 'B'"}],
      "mark": {"type": "rect", "stroke": "#1a1a2e", "strokeWidth": 0.8},
      "encoding": {
        "x": {"field": "x1", "type": "quantitative"},
        "x2": {"field": "x2"},
        "y": {"field": "y1", "type": "quantitative"},
        "y2": {"field": "y2"},
        "fill": {"field": "c", "type": "nominal", "title": "Contrast",
          "scale": {"domain": ["DLD Target preference", "Age-controls vs. DLD", "MLUw-controls  vs. DLD"], "range": ["#0c3a7d", "#2c75bf", "#6cb0de"]},
          "legend": {"orient": "none", "legendX": 572, "legendY": 296, "symbolType": "square", "symbolSize": 300, "symbolStrokeColor": "#222222", "symbolStrokeWidth": 1, "rowPadding": 0, "labelLimit": 400}}
      }
    },
    {
      "transform": [{"filter": "datum.k == 'B'"}, {"calculate": "(datum.x1 + datum.x2) / 2", "as": "xm"}, {"calculate": "(datum.y1 + datum.y2) / 2", "as": "ym"}],
      "mark": {"type": "text", "text": "***", "fontSize": 9, "color": "#1a1a1a", "baseline": "middle", "dy": 2},
      "encoding": {
        "x": {"field": "xm", "type": "quantitative"},
        "y": {"field": "ym", "type": "quantitative"}
      }
    },
    {
      "transform": [{"filter": "datum.k == 'S'"}],
      "mark": {"type": "rect", "fill": "#d9d9d9", "stroke": "#333333", "strokeWidth": 1},
      "encoding": {
        "x": {"datum": -250, "type": "quantitative"},
        "x2": {"datum": 5250},
        "y": {"datum": 0.745, "type": "quantitative"},
        "y2": {"datum": 0.808}
      }
    },
    {
      "transform": [{"filter": "datum.k == 'S'"}],
      "mark": {"type": "text", "fontSize": 15, "color": "#1a1a1a", "baseline": "middle"},
      "encoding": {
        "x": {"datum": 2500, "type": "quantitative"},
        "y": {"datum": 0.777, "type": "quantitative"},
        "text": {"field": "p"}
      }
    }
  ]
},
"config": {
  "font": "Liberation Sans",
  "view": {"stroke": "#333333", "strokeWidth": 1},
  "axis": {"labelFontSize": 15, "labelColor": "#4d4d4d", "titleFontSize": 19, "titleFontWeight": "normal", "titleColor": "#000000", "domain": false, "tickColor": "#333333", "tickSize": 5, "gridColor": "#e6e6e6", "labelPadding": 2},
  "legend": {"titleFontSize": 20, "titleFontWeight": "normal", "titleColor": "#000000", "labelFontSize": 15, "labelColor": "#000000", "rowPadding": 0, "symbolSize": 90, "titlePadding": 10, "labelLimit": 400}
}
}
